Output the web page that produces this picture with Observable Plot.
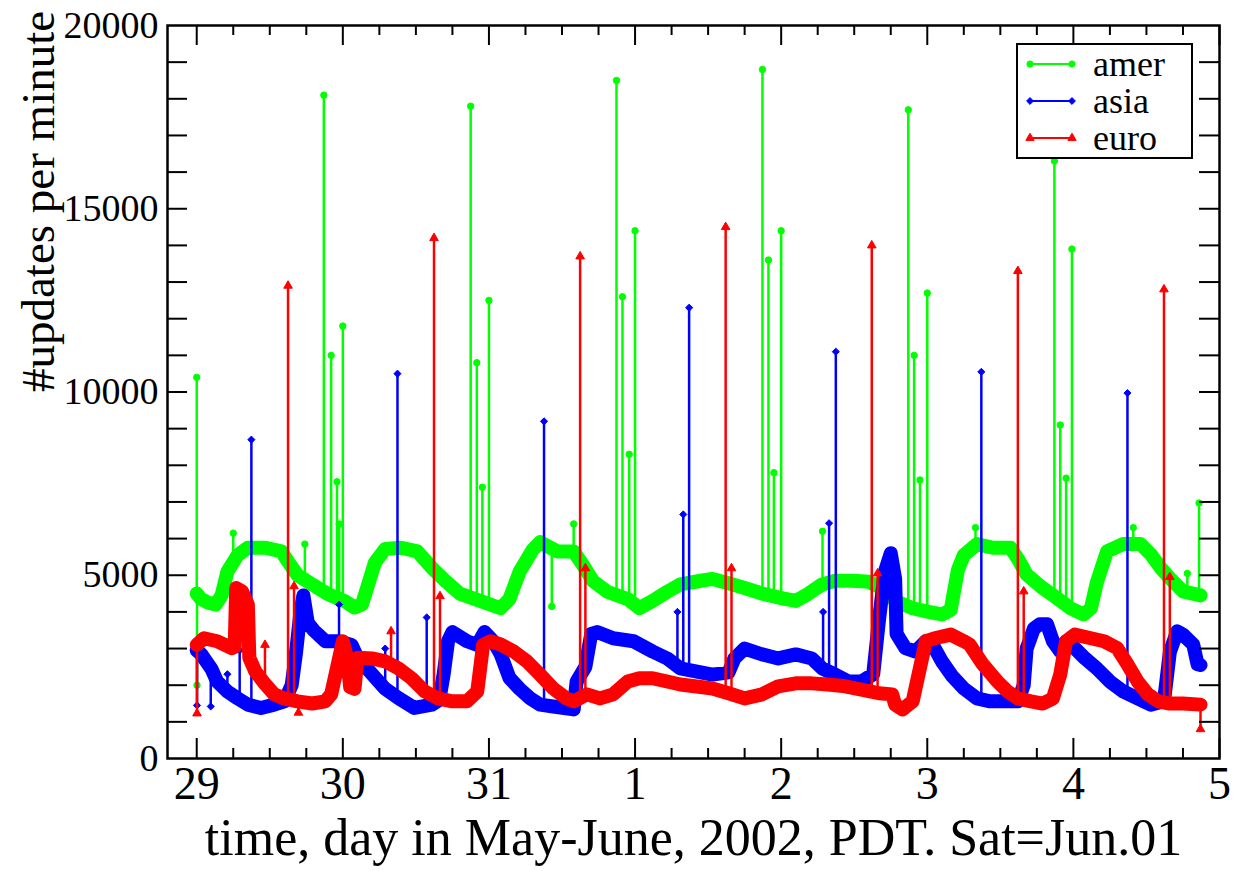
<!DOCTYPE html>
<html><head><meta charset="utf-8">
<script src="https://cdn.jsdelivr.net/npm/d3@7"></script>
<script src="https://cdn.jsdelivr.net/npm/@observablehq/plot@0.6"></script>
<style>body{margin:0;background:#fff} svg{display:block}</style>
</head><body><div id="chart"></div>
<script>
// x = days since May 29 2002 00:00 PDT
const dayLabels = ["29","30","31","1","2","3","4","5"];
const yTickValues = [0, 5000, 10000, 15000, 20000];
const xTitle = "time, day in May-June, 2002, PDT. Sat=Jun.01";
const yTitle = "#updates per minute";
const seriesNames = ["amer", "asia", "euro"];
const seriesColors = ["#00ff00", "#0000ff", "#ff0000"];

// baseline level [day, updates/min]
const amerBase = [[0.00,4500],[0.03,4350],[0.08,4250],[0.13,4200],[0.17,4450],[0.21,5100],[0.28,5550],[0.35,5750],[0.47,5750],[0.58,5650],[0.62,5400],[0.69,5000],[0.79,4750],[0.90,4480],[1.01,4300],[1.08,4120],[1.13,4200],[1.17,4700],[1.22,5350],[1.29,5720],[1.40,5750],[1.51,5650],[1.61,5200],[1.70,4850],[1.80,4500],[1.94,4300],[2.08,4100],[2.14,4350],[2.21,5100],[2.30,5700],[2.35,5900],[2.47,5650],[2.58,5650],[2.64,5300],[2.71,4850],[2.81,4550],[2.95,4350],[3.03,4100],[3.12,4300],[3.22,4550],[3.31,4750],[3.45,4850],[3.53,4900],[3.64,4780],[3.75,4650],[3.87,4500],[4.01,4370],[4.10,4300],[4.18,4480],[4.28,4750],[4.37,4850],[4.49,4850],[4.60,4820],[4.69,4650],[4.78,4300],[4.90,4100],[5.01,4000],[5.10,3930],[5.16,4050],[5.21,5150],[5.25,5550],[5.34,5850],[5.45,5750],[5.57,5750],[5.62,5450],[5.68,5020],[5.79,4650],[5.89,4370],[5.98,4100],[6.07,3930],[6.12,4100],[6.16,4800],[6.23,5650],[6.34,5850],[6.46,5850],[6.53,5570],[6.60,5190],[6.66,4920],[6.75,4560],[6.87,4450]];
const asiaBase = [[0.00,2950],[0.03,2850],[0.10,2450],[0.14,2100],[0.21,1830],[0.28,1640],[0.35,1470],[0.44,1380],[0.53,1470],[0.60,1560],[0.65,2000],[0.68,2900],[0.71,4000],[0.73,4450],[0.76,3700],[0.80,3500],[0.88,3200],[0.97,3200],[1.06,3100],[1.10,2750],[1.20,2300],[1.29,1900],[1.38,1650],[1.49,1380],[1.61,1470],[1.66,1600],[1.69,2300],[1.72,3200],[1.75,3450],[1.85,3200],[1.92,3100],[1.97,3450],[2.03,3200],[2.08,2850],[2.14,2200],[2.21,1900],[2.28,1650],[2.35,1470],[2.44,1420],[2.58,1340],[2.60,2100],[2.66,2500],[2.70,3400],[2.74,3450],[2.85,3280],[2.99,3200],[3.12,2920],[3.22,2730],[3.31,2460],[3.45,2350],[3.53,2290],[3.64,2350],[3.68,2730],[3.75,3000],[3.87,2840],[3.98,2730],[4.10,2840],[4.21,2730],[4.28,2460],[4.37,2290],[4.46,2100],[4.55,2100],[4.63,2300],[4.67,3800],[4.71,5100],[4.75,5600],[4.78,4900],[4.79,3400],[4.85,3010],[4.92,2920],[4.99,3200],[5.05,3010],[5.10,2650],[5.17,2250],[5.25,1910],[5.34,1640],[5.43,1560],[5.62,1560],[5.66,2000],[5.68,3000],[5.73,3550],[5.77,3660],[5.82,3660],[5.86,3200],[5.91,2920],[5.95,3200],[6.01,3010],[6.08,2730],[6.16,2460],[6.25,2100],[6.34,1830],[6.44,1640],[6.53,1470],[6.62,1560],[6.66,2900],[6.71,3470],[6.75,3380],[6.82,3110],[6.85,2570],[6.87,2550]];
const euroBase = [[0.00,3100],[0.05,3280],[0.14,3200],[0.24,3010],[0.26,3050],[0.27,4650],[0.31,4560],[0.35,4200],[0.36,2750],[0.40,2380],[0.47,2020],[0.53,1750],[0.60,1640],[0.69,1560],[0.79,1500],[0.88,1560],[0.92,1750],[0.97,2650],[1.00,3200],[1.03,2750],[1.05,1950],[1.08,1900],[1.10,2750],[1.20,2730],[1.29,2650],[1.38,2460],[1.47,2190],[1.56,1830],[1.65,1640],[1.75,1560],[1.85,1560],[1.92,1830],[1.96,3100],[2.01,3200],[2.08,3110],[2.17,2920],[2.26,2650],[2.35,2290],[2.44,1910],[2.53,1640],[2.58,1560],[2.67,1750],[2.76,1640],[2.85,1750],[2.95,2100],[3.03,2190],[3.12,2190],[3.22,2100],[3.31,2020],[3.45,1950],[3.53,1910],[3.64,1780],[3.75,1640],[3.87,1750],[3.98,1970],[4.10,2050],[4.21,2050],[4.32,2020],[4.44,1970],[4.55,1880],[4.67,1780],[4.76,1750],[4.78,1470],[4.83,1340],[4.90,1560],[4.94,2290],[4.99,3200],[5.05,3280],[5.16,3380],[5.25,3200],[5.29,3110],[5.38,2570],[5.48,2100],[5.55,1830],[5.62,1640],[5.71,1560],[5.79,1500],[5.86,1640],[5.91,2290],[5.95,3200],[6.01,3380],[6.12,3280],[6.21,3200],[6.30,3010],[6.37,2570],[6.44,2100],[6.51,1750],[6.58,1560],[6.66,1500],[6.75,1500],[6.87,1470]];

// short bursts (and a few dips) [day, updates/min]
const amerSpikes = [[0.00,10400],[0.002,2000],[0.25,6150],[0.74,5850],[0.87,18100],[0.92,11000],[0.96,7550],[0.975,6400],[1.00,11800],[1.875,17800],[1.917,10800],[1.955,7400],[2.00,12500],[2.43,4150],[2.58,6400],[2.873,18500],[2.914,12600],[2.96,8300],[3.00,14400],[3.872,18800],[3.913,13600],[3.95,7800],[4.00,14400],[4.283,6200],[4.87,17700],[4.91,11000],[4.95,7600],[5.00,12700],[5.33,6300],[5.87,16300],[5.91,9100],[5.95,7650],[5.99,13900],[6.41,6300],[6.78,5050],[6.86,6970]];
const asiaSpikes = [[0.002,1450],[0.096,1420],[0.21,2300],[0.294,2950],[0.374,8700],[0.974,4200],[1.29,3000],[1.374,10500],[1.574,3850],[2.377,9200],[3.29,4000],[3.33,6660],[3.37,12300],[4.287,4000],[4.328,6420],[4.374,11100],[5.37,10550],[6.37,9970]];
const euroSpikes = [[0.002,1230],[0.467,3100],[0.625,12900],[0.666,4700],[0.696,1250],[1.33,3470],[1.624,14200],[1.665,4430],[2.624,13700],[2.66,5190],[3.62,14500],[3.66,5190],[4.62,14000],[4.66,5050],[5.62,13300],[5.66,4560],[6.62,12800],[6.66,4950],[6.87,800]];

const baseArrays = [amerBase, asiaBase, euroBase];
const spikeArrays = [amerSpikes, asiaSpikes, euroSpikes];
const symbols = ["circle", "diamond2", "triangle"];

function baseAt(base, t) {
  const ts = base.map(d => d[0]);
  const i = d3.bisectRight(ts, t);
  if (i <= 0) return base[0][1];
  if (i >= base.length) return base[base.length - 1][1];
  const [t0, v0] = base[i - 1], [t1, v1] = base[i];
  return v0 + (v1 - v0) * (t - t0) / (t1 - t0);
}

const ff = '"Liberation Serif","Times New Roman",Times,serif';
const W = 1238, H = 871, mL = 167, mR = 19, mT = 25, mB = 113;
const innerH = H - mT - mB, innerW = W - mL - mR;

const xMajor = d3.range(dayLabels.length);
const xMinor = d3.range(0, dayLabels.length - 1, 0.25).filter(d => d % 1 !== 0);
const yAll = d3.range(1000, 20000, 1000);

const marks = [];
seriesNames.forEach((name, k) => {
  const color = seriesColors[k];
  const base = baseArrays[k].map(([t, v]) => ({t, v}));
  const spikes = spikeArrays[k].map(([t, v]) => ({t, v, b: baseAt(baseArrays[k], t)}));
  marks.push(Plot.line(base, {x: "t", y: "v", stroke: color, strokeWidth: 14, strokeLinejoin: "round", strokeLinecap: "round"}));
  marks.push(Plot.ruleX(spikes, {x: "t", y1: "b", y2: "v", stroke: color, strokeWidth: 2.5}));
  marks.push(Plot.dot(spikes, {x: "t", y: "v", symbol: symbols[k], r: 3.2, fill: color, stroke: color, strokeWidth: 1}));
});

const chart = Plot.plot({
  width: W, height: H,
  marginLeft: mL, marginRight: mR, marginTop: mT, marginBottom: mB,
  style: {fontFamily: ff, background: "white", color: "black"},
  x: {domain: [-0.2, 7], axis: null},
  y: {domain: [0, 20000], axis: null},
  marks: [
    ...marks,
    // ticks, inward, all four sides
    Plot.tickX(xMajor, {x: d => d, insetTop: innerH - 20, stroke: "black", strokeWidth: 2}),
    Plot.tickX(xMinor, {x: d => d, insetTop: innerH - 10, stroke: "black", strokeWidth: 2}),
    Plot.tickX(xMajor, {x: d => d, insetBottom: innerH - 20, stroke: "black", strokeWidth: 2}),
    Plot.tickX(xMinor, {x: d => d, insetBottom: innerH - 10, stroke: "black", strokeWidth: 2}),
    Plot.tickY(yAll, {y: d => d, insetRight: innerW - 20, stroke: "black", strokeWidth: 2}),
    Plot.tickY(yAll, {y: d => d, insetLeft: innerW - 20, stroke: "black", strokeWidth: 2}),
    Plot.frame({stroke: "black", strokeWidth: 2.5}),
    Plot.axisX({ticks: xMajor, tickSize: 0, tickPadding: 8, tickFormat: i => dayLabels[i], fontSize: 46, label: null, anchor: "bottom"}),
    Plot.axisY({ticks: yTickValues, tickSize: 0, tickPadding: 9, tickFormat: d => String(d), fontSize: 38, label: null, anchor: "left"}),
    Plot.text([xTitle], {frameAnchor: "bottom", dy: 96, fontSize: 52, fill: "black"}),
    Plot.text([yTitle], {frameAnchor: "left", dx: -129, rotate: -90, fontSize: 47, fill: "black"})
  ]
});
document.getElementById("chart").appendChild(chart);

// legend box, upper right
const svg = d3.select(chart);
const lg = svg.append("g");
lg.append("rect").attr("x", 1017).attr("y", 44).attr("width", 175).attr("height", 114)
  .attr("fill", "white").attr("stroke", "black").attr("stroke-width", 2);
const symPaths = [d3.symbol(d3.symbolCircle, 30)(), d3.symbol(d3.symbolDiamond2, 30)(), d3.symbol(d3.symbolTriangle, 30)()];
seriesNames.forEach((name, k) => {
  const cy = 64 + k * 37;
  lg.append("line").attr("x1", 1030).attr("x2", 1072).attr("y1", cy).attr("y2", cy)
    .attr("stroke", seriesColors[k]).attr("stroke-width", 2);
  [1030, 1072].forEach(cx => lg.append("path").attr("d", symPaths[k])
    .attr("transform", `translate(${cx},${cy})`).attr("fill", seriesColors[k]).attr("stroke", seriesColors[k]));
  lg.append("text").attr("x", 1093).attr("y", cy).attr("dy", "0.32em").attr("text-anchor", "start")
    .attr("font-family", ff).attr("font-size", 36).attr("fill", "black").text(name);
});
</script>
</body></html>
